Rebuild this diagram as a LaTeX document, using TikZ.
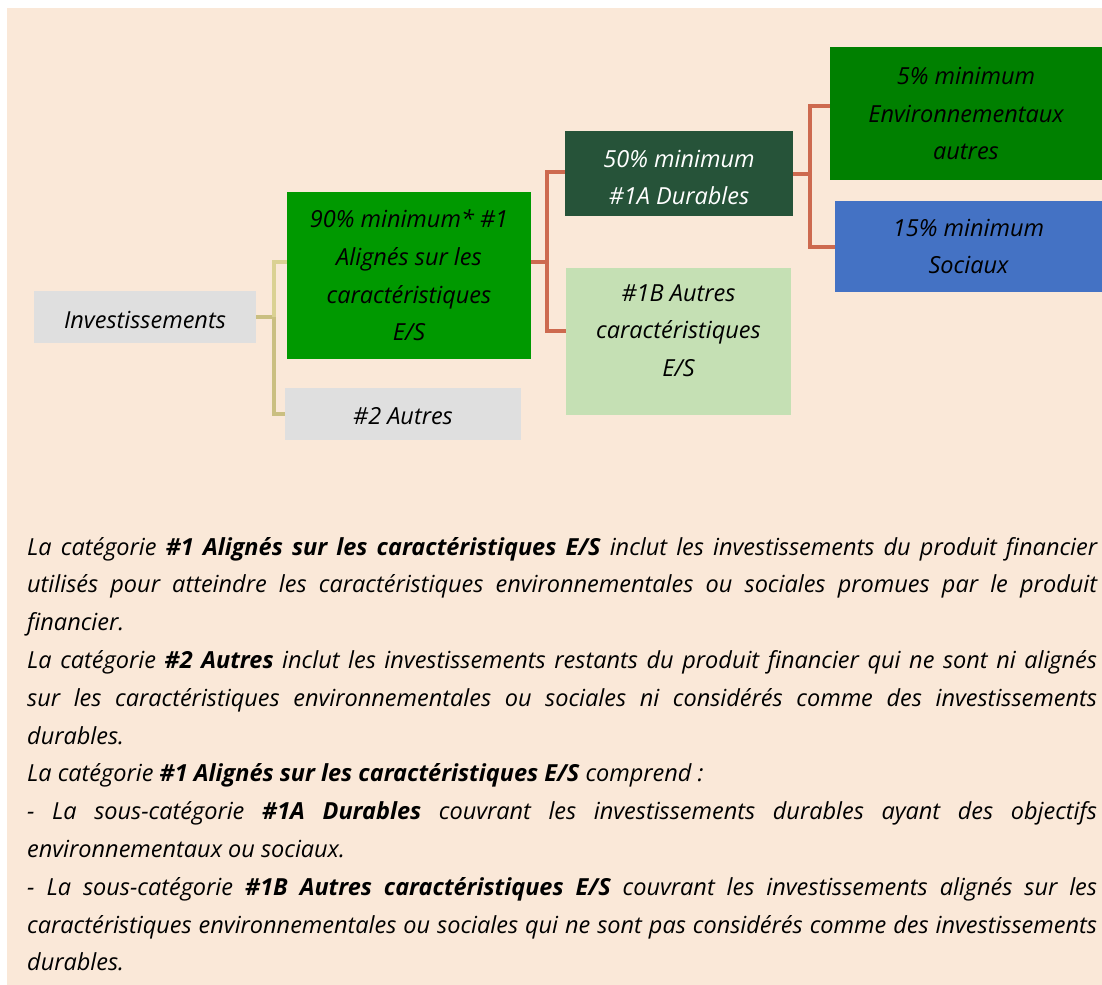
\documentclass[tikz,border=0pt]{standalone}
\usepackage{fontspec}
\setmainfont{Open Sans}
\usepackage{tikz}
\usetikzlibrary{positioning}

\definecolor{bgbeige}{HTML}{FAE8D8}
\definecolor{boxgray}{HTML}{DFDFDF}
\definecolor{midgreen}{HTML}{009900}
\definecolor{darkgreen}{HTML}{265339}
\definecolor{palegreen}{HTML}{C5E0B4}
\definecolor{envgreen}{HTML}{008000}
\definecolor{socblue}{HTML}{4472C4}
\definecolor{tanlight}{HTML}{DAD193}
\definecolor{tandark}{HTML}{CABF81}
\definecolor{rust}{HTML}{CD6A4F}

\newcommand{\boxfont}{\fontsize{23.5bp}{37.6bp}\selectfont\itshape}

\tikzset{
  catbox/.style={inner sep=0pt, align=center, font=\boxfont},
  tanline/.style={line width=4bp},
  rustline/.style={line width=4bp, draw=rust},
}

\begin{document}
\begin{tikzpicture}[x=1bp, y=-1bp]
  % page and background
  \useasboundingbox (0,0) rectangle (1102,985);
  \fill[white] (0,0) rectangle (1102,985);
  \fill[bgbeige] (7,8) rectangle (1102,985);
  % categories
  \node[catbox, fill=boxgray, minimum width=222bp, minimum height=52bp] (inv) at (145,317)
    {\rule{0pt}{23bp}Investissements};
  \node[catbox, fill=midgreen, minimum width=244bp, minimum height=167bp] (al) at (409,275.5)
    {90\% minimum* \#1\\Alignés sur les\\caractéristiques\\E/S};
  \node[catbox, fill=boxgray, minimum width=236bp, minimum height=52bp] (aut) at (403,414)
    {\rule{0pt}{22bp}\#2 Autres};
  \node[catbox, fill=darkgreen, text=white, minimum width=228bp, minimum height=85bp] (dur) at (679,173.5)
    {\rule{0pt}{25bp}50\% minimum\\\#1A Durables};
  \node[catbox, fill=palegreen, minimum width=225bp, minimum height=147bp] (oth) at (678.5,341.5)
    {\#1B Autres\\caractéristiques\\E/S\rule[-22bp]{0pt}{1bp}};
  \node[catbox, fill=envgreen, minimum width=272bp, minimum height=133bp] (env) at (966,113.5)
    {5\% minimum\\Environnementaux\\autres};
  \node[catbox, fill=socblue, minimum width=267bp, minimum height=91bp] (soc) at (968.5,246.5)
    {15\% minimum\\Sociaux};
  % connectors
  \path (inv.east) ++(18,0) coordinate (tj);
  \draw[tanline, draw=tandark] (inv.east) -- (tj);
  \draw[tanline, draw=tanlight] ([yshift=13.5bp]al.west) -| (tj);
  \draw[tanline, draw=tandark] (tj) |- (aut.west);
  \path ([yshift=13.5bp]al.east) ++(16,0) coordinate (rj1);
  \draw[rustline] ([yshift=13.5bp]al.east) -- (rj1);
  \draw[rustline] ([yshift=1.5bp]dur.west) -| (rj1) |- ([yshift=10.5bp]oth.west);
  \path (dur.east) ++(17,0) coordinate (rj2);
  \draw[rustline] (dur.east) -- (rj2);
  \draw[rustline] ([yshift=7.5bp]env.west) -| (rj2) |- (soc.west);
  % legend text
  \node[inner sep=0pt, anchor=base west, text width=1070bp, align=justify,
        font=\fontsize{23.5bp}{37.8bp}\selectfont\itshape] (legend) at (27,555) {%
    La catégorie \textbf{\#1 Alignés sur les caractéristiques E/S} inclut les investissements du produit financier\linebreak
    utilisés pour atteindre les caractéristiques environnementales ou sociales promues par le produit\linebreak
    financier.\par
    La catégorie \textbf{\#2 Autres} inclut les investissements restants du produit financier qui ne sont ni alignés\linebreak
    sur les caractéristiques environnementales ou sociales ni considérés comme des investissements\linebreak
    durables.\par
    La catégorie \textbf{\#1 Alignés sur les caractéristiques E/S} comprend :\par
    - La sous-catégorie \textbf{\#1A Durables} couvrant les investissements durables ayant des objectifs\linebreak
    environnementaux ou sociaux.\par
    - La sous-catégorie \textbf{\#1B Autres caractéristiques E/S} couvrant les investissements alignés sur les\linebreak
    caractéristiques environnementales ou sociales qui ne sont pas considérés comme des investissements\linebreak
    durables.};
\end{tikzpicture}
\end{document}
